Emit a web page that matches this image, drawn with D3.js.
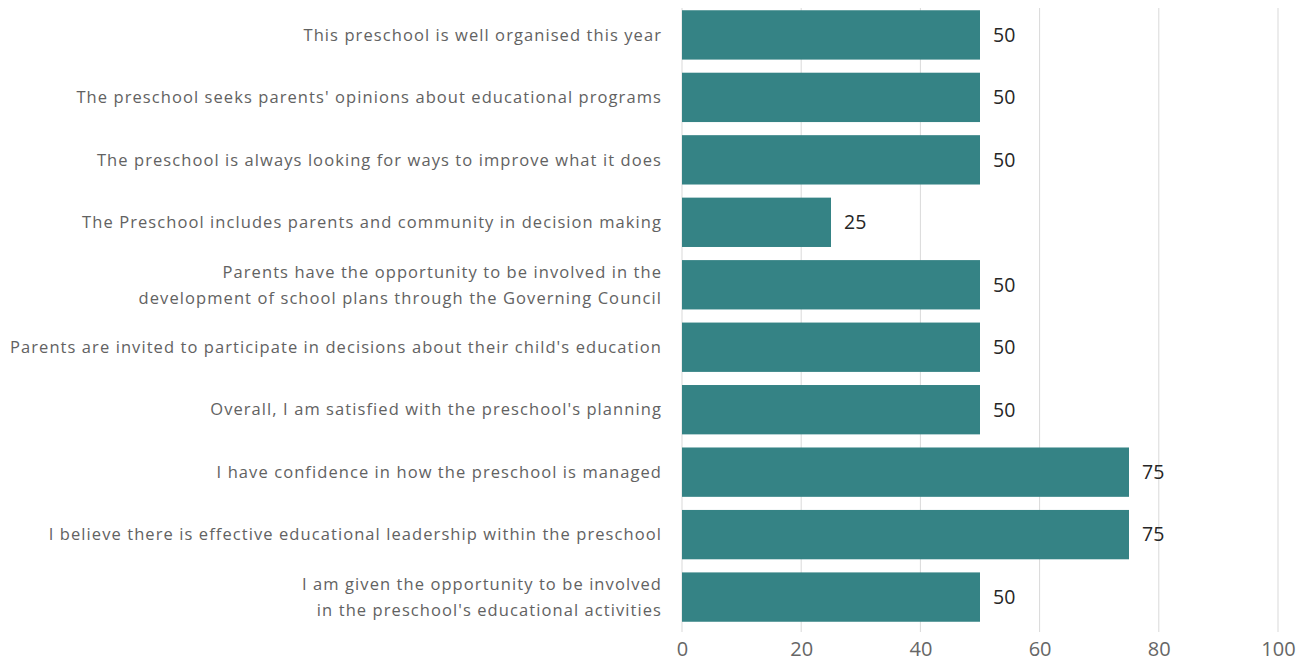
<!DOCTYPE html>
<html>
<head>
<meta charset="utf-8">
<script src="https://cdn.jsdelivr.net/npm/d3@7"></script>
<style>
  body { margin: 0; background: #fff; }
  svg { display: block; font-family: "Open Sans", "Noto Sans", sans-serif; }
</style>
</head>
<body>
<div class="chart"></div>
<script>
// statements, top to bottom (line breaks as in the original)
const categories = [
    ["This preschool is well organised this year"],
    ["The preschool seeks parents' opinions about educational programs"],
    ["The preschool is always looking for ways to improve what it does"],
    ["The Preschool includes parents and community in decision making"],
    ["Parents have the opportunity to be involved in the", "development of school plans through the Governing Council"],
    ["Parents are invited to participate in decisions about their child's education"],
    ["Overall, I am satisfied with the preschool's planning"],
    ["I have confidence in how the preschool is managed"],
    ["I believe there is effective educational leadership within the preschool"],
    ["I am given the opportunity to be involved", "in the preschool's educational activities"]
];
const values = [50, 50, 50, 25, 50, 50, 50, 75, 75, 50];
const xTicks = [0, 20, 40, 60, 80, 100];

const width = 1316, height = 664;
const plotLeft = 682, plotRight = 1278, plotTop = 4, plotBottom = 628;

const svg = d3.select('.chart').append('svg')
    .attr('width', width)
    .attr('height', height);

const x = d3.scaleLinear().domain([0, 100]).range([plotLeft, plotRight]);
const y = d3.scaleBand()
    .domain(d3.range(values.length))
    .range([plotTop, plotBottom])
    .paddingInner(0.21)
    .paddingOuter(0.1);

/* gridlines */
svg.append('g')
    .selectAll('line')
    .data(xTicks).enter()
    .append('line')
    .attr('x1', d => x(d)).attr('x2', d => x(d))
    .attr('y1', 8).attr('y2', 632)
    .attr('stroke', '#d9d9d9')
    .attr('stroke-width', 1);

/* bars */
svg.append('g')
    .selectAll('rect')
    .data(values).enter()
    .append('rect')
    .attr('x', x(0))
    .attr('y', (d, i) => y(i))
    .attr('width', d => x(d) - x(0))
    .attr('height', y.bandwidth())
    .attr('fill', '#358385');

/* value labels */
svg.append('g')
    .selectAll('text')
    .data(values).enter()
    .append('text')
    .attr('x', d => x(d) + 13)
    .attr('y', (d, i) => y(i) + y.bandwidth() / 2)
    .attr('dy', '0.35em')
    .attr('font-size', 19.5)
    .attr('fill', '#262626')
    .text(d => d);

/* category labels */
const cat = svg.append('g')
    .selectAll('text')
    .data(categories).enter()
    .append('text')
    .attr('text-anchor', 'end')
    .attr('font-size', 16.5)
    .attr('letter-spacing', 1.08)
    .attr('fill', '#626262')
    .attr('transform', (d, i) => `translate(662, ${y(i) + y.bandwidth() / 2})`);

cat.selectAll('tspan')
    .data(d => d.map((t, j) => ({ t, j, n: d.length }))).enter()
    .append('tspan')
    .attr('x', 0)
    .attr('y', d => (d.j - (d.n - 1) / 2) * 26)
    .attr('dy', '0.35em')
    .text(d => d.t);

/* x axis */
const xAxis = d3.axisBottom(x).tickValues(xTicks).tickSize(0).tickPadding(10);
const ax = svg.append('g')
    .attr('transform', `translate(0, ${plotBottom + 4})`)
    .call(xAxis);
ax.select('.domain').remove();
ax.selectAll('text')
    .attr('font-size', 20)
    .attr('font-family', '"Open Sans", "Noto Sans", sans-serif')
    .attr('fill', '#666666');
</script>
</body>
</html>
